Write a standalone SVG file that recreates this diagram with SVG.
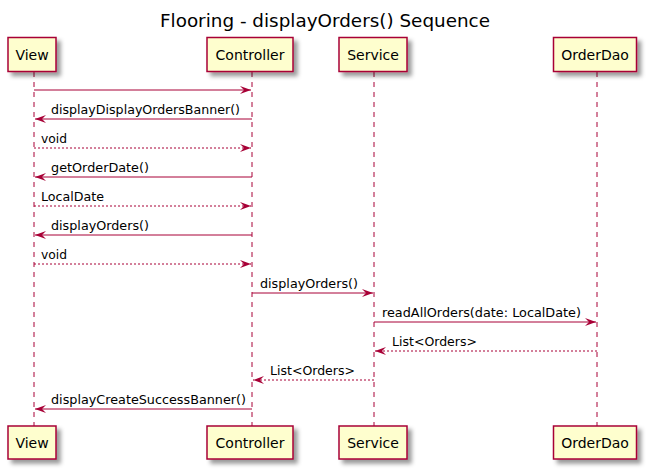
<svg xmlns="http://www.w3.org/2000/svg" width="655" height="475" viewBox="0 0 655 475">
<defs>
<filter id="sh" x="-1" y="-1" width="300%" height="300%">
<feGaussianBlur in="SourceAlpha" stdDeviation="2"/>
<feColorMatrix type="matrix" values="0 0 0 0 0 0 0 0 0 0 0 0 0 0 0 0 0 0 0.4 0"/>
<feOffset dx="4" dy="4" result="b"/>
<feMerge><feMergeNode in="b"/><feMergeNode in="SourceGraphic"/></feMerge>
</filter>
<marker id="ah" viewBox="0 0 11 8" refX="11" refY="4" markerWidth="11" markerHeight="8" markerUnits="userSpaceOnUse" orient="auto">
<polygon points="0,0 11,4 0,8 4,4" fill="#A80036"/>
</marker>
</defs>
<style>
text{font-family:"DejaVu Sans",Verdana,sans-serif;fill:#000}
.box{fill:#FEFECE;stroke:#A80036;stroke-width:1.5;filter:url(#sh)}
.pt{font-size:14px;text-anchor:middle}
.life{stroke:#A80036;stroke-width:1;stroke-dasharray:5,5;fill:none}
.msg{stroke:#A80036;stroke-width:1;fill:none;marker-end:url(#ah)}
.ret{stroke:#A80036;stroke-width:1;fill:none;stroke-dasharray:2,2;marker-end:url(#ah)}
.lbl{font-size:12.6px}
</style>
<text x="325" y="27" font-size="18" text-anchor="middle" textLength="330" lengthAdjust="spacingAndGlyphs">Flooring - displayOrders() Sequence</text>
<g id="lifelines">
<line class="life" x1="34" y1="72" x2="34" y2="426"/>
<line class="life" x1="252" y1="72" x2="252" y2="426"/>
<line class="life" x1="374" y1="72" x2="374" y2="426"/>
<line class="life" x1="597" y1="72" x2="597" y2="426"/>
</g>
<g id="View">
<rect class="box" x="8" y="37.5" width="48" height="34"/>
<text class="pt" x="32" y="59.5">View</text>
<rect class="box" x="8" y="426" width="48" height="33"/>
<text class="pt" x="32" y="447.5">View</text>
</g>
<g id="Controller">
<rect class="box" x="207" y="37.5" width="86" height="34"/>
<text class="pt" x="250" y="59.5">Controller</text>
<rect class="box" x="207" y="426" width="86" height="33"/>
<text class="pt" x="250" y="447.5">Controller</text>
</g>
<g id="Service">
<rect class="box" x="339" y="37.5" width="68" height="34"/>
<text class="pt" x="373" y="59.5">Service</text>
<rect class="box" x="339" y="426" width="68" height="33"/>
<text class="pt" x="373" y="447.5">Service</text>
</g>
<g id="OrderDao">
<rect class="box" x="553.5" y="37.5" width="83" height="34"/>
<text class="pt" x="595" y="59.5">OrderDao</text>
<rect class="box" x="553.5" y="426" width="83" height="33"/>
<text class="pt" x="595" y="447.5">OrderDao</text>
</g>
<g id="connectors">
<line class="msg" x1="34" y1="90" x2="251" y2="90"/>
<line class="msg" x1="252" y1="119" x2="35" y2="119"/>
<text class="lbl" x="51" y="114" textLength="189" lengthAdjust="spacingAndGlyphs">displayDisplayOrdersBanner()</text>
<line class="ret" x1="34" y1="148" x2="251" y2="148"/>
<text class="lbl" x="41" y="143" textLength="26" lengthAdjust="spacingAndGlyphs">void</text>
<line class="msg" x1="252" y1="177" x2="35" y2="177"/>
<text class="lbl" x="51" y="172" textLength="98" lengthAdjust="spacingAndGlyphs">getOrderDate()</text>
<line class="ret" x1="34" y1="206" x2="251" y2="206"/>
<text class="lbl" x="41" y="201" textLength="63" lengthAdjust="spacingAndGlyphs">LocalDate</text>
<line class="msg" x1="252" y1="235" x2="35" y2="235"/>
<text class="lbl" x="51" y="230" textLength="98" lengthAdjust="spacingAndGlyphs">displayOrders()</text>
<line class="ret" x1="34" y1="264" x2="251" y2="264"/>
<text class="lbl" x="41" y="259" textLength="26" lengthAdjust="spacingAndGlyphs">void</text>
<line class="msg" x1="252" y1="293" x2="373" y2="293"/>
<text class="lbl" x="260" y="288" textLength="98" lengthAdjust="spacingAndGlyphs">displayOrders()</text>
<line class="msg" x1="374" y1="322" x2="596" y2="322"/>
<text class="lbl" x="382" y="317" textLength="199" lengthAdjust="spacingAndGlyphs">readAllOrders(date: LocalDate)</text>
<line class="ret" x1="597" y1="351" x2="375" y2="351"/>
<text class="lbl" x="392" y="346" textLength="85" lengthAdjust="spacingAndGlyphs">List&lt;Orders&gt;</text>
<line class="ret" x1="374" y1="380" x2="253" y2="380"/>
<text class="lbl" x="270" y="375" textLength="85" lengthAdjust="spacingAndGlyphs">List&lt;Orders&gt;</text>
<line class="msg" x1="252" y1="409" x2="35" y2="409"/>
<text class="lbl" x="51" y="404" textLength="195" lengthAdjust="spacingAndGlyphs">displayCreateSuccessBanner()</text>
</g>
</svg>
